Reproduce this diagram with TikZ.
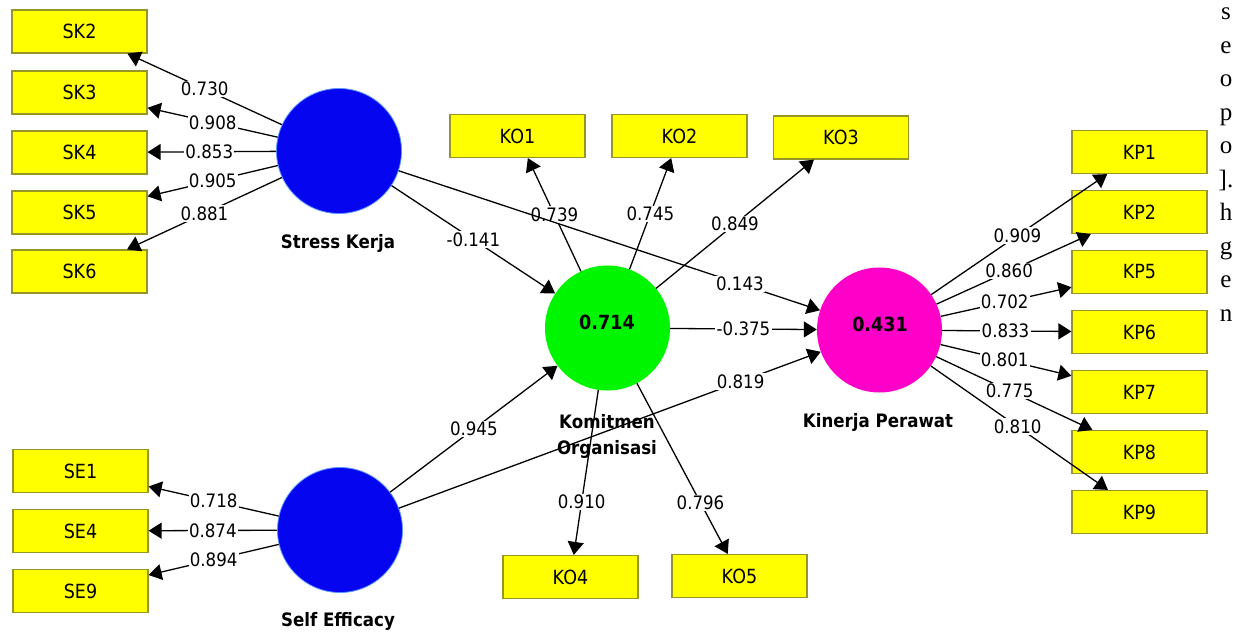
\documentclass[tikz,border=0pt]{standalone}
\usepackage{fontspec}
\usetikzlibrary{arrows.meta}
\newfontfamily\dvs{DejaVu Sans}[FakeStretch=0.9]
\newfontfamily\tms{Liberation Serif}
\definecolor{ybox}{RGB}{255,255,0}
\definecolor{yedge}{RGB}{150,150,40}
\definecolor{lvblue}{RGB}{5,5,240}
\definecolor{lvblueedge}{RGB}{90,150,255}
\definecolor{lvgreen}{RGB}{0,245,0}
\definecolor{lvmag}{RGB}{255,0,200}
\begin{document}
\begin{tikzpicture}[x=1pt,y=-1pt,
  ind/.style={draw=yedge,line width=1.2pt,fill=ybox,minimum width=135pt,minimum height=43pt,inner sep=0pt,font=\dvs\fontsize{19.5}{22}\selectfont},
  lv/.style={circle,minimum size=125pt,inner sep=0pt},
  arr/.style={line width=1.3pt,-{Triangle[length=13pt,width=16pt]}},
  lab/.style={fill=white,inner sep=1.2pt,font=\dvs\fontsize{18.5}{20}\selectfont},
  lvname/.style={font=\dvs\bfseries\fontsize{18.5}{26}\selectfont,align=center,inner sep=0pt},
  lvval/.style={font=\dvs\bfseries\fontsize{19.5}{22}\selectfont,inner sep=0pt}]
\useasboundingbox (0,0) rectangle (1243,632);
\fill[white] (0,0) rectangle (1243,632);
% indicator boxes
\node[ind] (SK2) at (79.5,31.5) {SK2};
\node[ind] (SK3) at (79.5,92.5) {SK3};
\node[ind] (SK4) at (79.5,152.5) {SK4};
\node[ind] (SK5) at (79.5,212.5) {SK5};
\node[ind] (SK6) at (79.5,271.5) {SK6};
\node[ind] (SE1) at (80.5,471) {SE1};
\node[ind] (SE4) at (80.5,531) {SE4};
\node[ind] (SE9) at (80.5,591) {SE9};
\node[ind] (KO1) at (517.5,136) {KO1};
\node[ind] (KO2) at (679.5,136) {KO2};
\node[ind] (KO3) at (841,137.5) {KO3};
\node[ind] (KO4) at (570.5,577) {KO4};
\node[ind] (KO5) at (739.5,576) {KO5};
\node[ind] (KP1) at (1139.5,152) {KP1};
\node[ind] (KP2) at (1139.5,212) {KP2};
\node[ind] (KP5) at (1139.5,272) {KP5};
\node[ind] (KP6) at (1139.5,332) {KP6};
\node[ind] (KP7) at (1139.5,392) {KP7};
\node[ind] (KP8) at (1139.5,452) {KP8};
\node[ind] (KP9) at (1139.5,512) {KP9};
% latent variables
\node[lv,fill=lvblue,draw=lvblueedge,line width=0.8pt] (SK) at (339,151) {};
\node[lv,fill=lvblue,draw=lvblueedge,line width=0.8pt] (SE) at (340,530) {};
\node[lv,fill=lvgreen] (KO) at (607.5,328) {};
\node[lv,fill=lvmag] (KP) at (879.5,330) {};
\node[lvval] (KOv) at (607,322) {0.714};
\node[lvval] (KPv) at (880,324) {0.431};
% outer loadings
\draw[arr] (SK) -- node[lab,pos=.5]{0.730} (SK2);
\draw[arr] (SK) -- node[lab,pos=.5]{0.908} (SK3);
\draw[arr] (SK) -- node[lab,pos=.52]{0.853} (SK4);
\draw[arr] (SK) -- node[lab,pos=.5]{0.905} (SK5);
\draw[arr] (SK) -- node[lab,pos=.5]{0.881} (SK6);
\draw[arr] (SE) -- node[lab,pos=.5]{0.718} (SE1);
\draw[arr] (SE) -- node[lab,pos=.5]{0.874} (SE4);
\draw[arr] (SE) -- node[lab,pos=.5]{0.894} (SE9);
\draw[arr] (KO) -- node[lab,pos=.5]{0.739} (KO1);
\draw[arr] (KO) -- node[lab,pos=.5]{0.745} (KO2);
\draw[arr] (KO) -- node[lab,pos=.5]{0.849} (KO3);
\draw[arr] (KP) -- node[lab,pos=.49]{0.909} (KP1);
\draw[arr] (KP) -- node[lab,pos=.47]{0.860} (KP2);
\draw[arr] (KP) -- node[lab,pos=.49]{0.702} (KP5);
\draw[arr] (KP) -- node[lab,pos=.49]{0.833} (KP6);
\draw[arr] (KP) -- node[lab,pos=.49]{0.801} (KP7);
\draw[arr] (KP) -- node[lab,pos=.47]{0.775} (KP8);
\draw[arr] (KP) -- node[lab,pos=.49]{0.810} (KP9);
% latent names
\node[lvname] (SKn) at (338,243) {Stress Kerja};
\node[lvname] (SEn) at (338,621) {Self Efficacy};
\node[lvname] (KOn) at (607,436) {Komitmen\\Organisasi};
\node[lvname] (KPn) at (878,422) {Kinerja Perawat};
% inner model
\draw[arr] (SK) -- node[lab,pos=.5]{-0.141} (KO);
\draw[arr] (SE) -- node[lab,pos=.5]{0.945} (KO);
\draw[arr] (KO) -- node[lab,pos=.5]{-0.375} (KP);
\draw[arr] (SK) -- node[lab,pos=.81]{0.143} (KP);
\draw[arr] (SE) -- node[lab,pos=.81]{0.819} (KP);
\draw[arr] (KO) -- node[lab,pos=.68]{0.910} (KO4);
\draw[arr] (KO) -- node[lab,pos=.70]{0.796} (KO5);
% side text
\node[font=\tms\fontsize{25}{33.5}\selectfont,align=center,anchor=north,inner sep=0pt] (side) at (1226,8) {s\\e\\o\\p\\o\\].\\h\\g\\e\\n};
\end{tikzpicture}
\end{document}
